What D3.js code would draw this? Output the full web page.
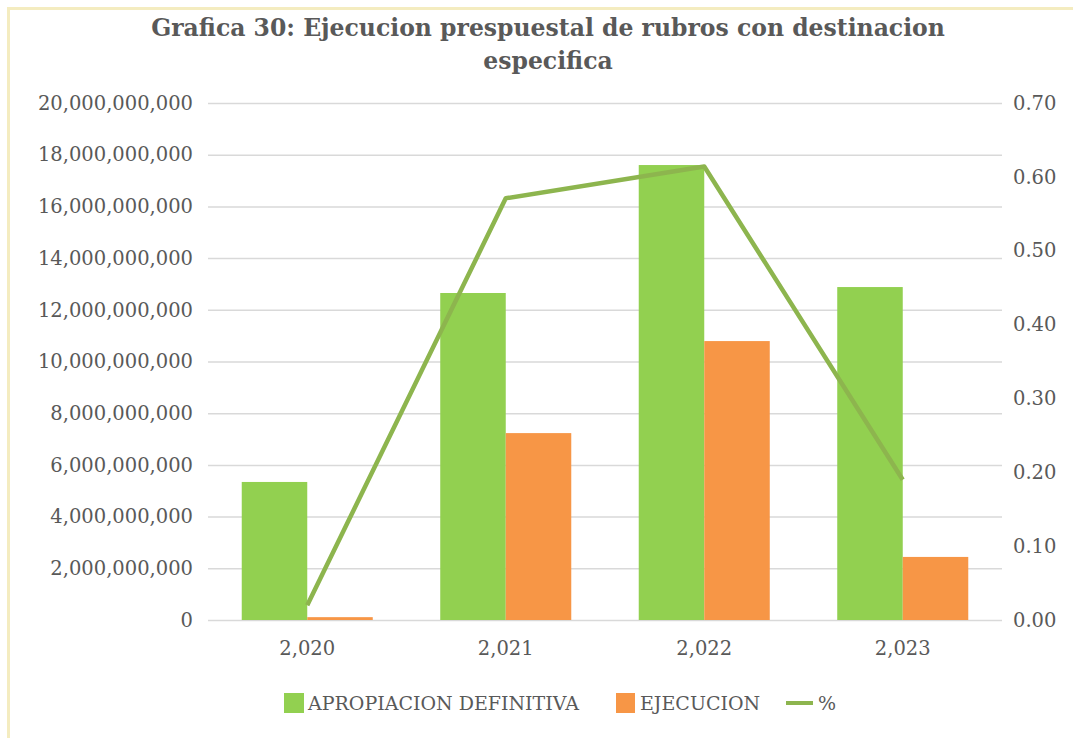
<!DOCTYPE html>
<html>
<head>
<meta charset="utf-8">
<script src="https://cdn.jsdelivr.net/npm/d3@7"></script>
<style>
  body { margin: 0; background: #fff; }
  text { font-family: "DejaVu Serif", serif; fill: #595959; }
</style>
</head>
<body>
<div class="chart"></div>
<script>
// data
const years = ['2,020', '2,021', '2,022', '2,023'];
const apropiacion = [5340000000, 12650000000, 17600000000, 12880000000];
const ejecucion = [110000000, 7230000000, 10790000000, 2440000000];
const porcentaje = [0.02, 0.571, 0.614, 0.19];
const leftTicks = [0, 2e9, 4e9, 6e9, 8e9, 10e9, 12e9, 14e9, 16e9, 18e9, 20e9];
const rightTicks = [0, 0.1, 0.2, 0.3, 0.4, 0.5, 0.6, 0.7];
const seriesNames = ['APROPIACION DEFINITIVA', 'EJECUCION', '%'];
const titleLines = ['Grafica 30: Ejecucion prespuestal de rubros con destinacion', 'especifica'];

const W = 1073, H = 738;
const plotLeft = 208, plotRight = 1002, plotTop = 103, plotBottom = 620;
const green = '#92d050', orange = '#f79646', lineColor = '#8db54e';

const svg = d3.select('.chart')
  .append('svg')
  .attr('width', W)
  .attr('height', H);

// pale yellow frame
svg.append('rect')
  .attr('x', 8.5).attr('y', 8.5)
  .attr('width', W + 10).attr('height', H + 10)
  .style('fill', 'none')
  .style('stroke', '#f4ecc0')
  .style('stroke-width', 3);

// title
svg.selectAll('.title')
  .data(titleLines)
  .enter().append('text')
  .attr('class', 'title')
  .attr('x', 548)
  .attr('y', (d, i) => 36 + i * 33)
  .attr('text-anchor', 'middle')
  .style('font-size', '23.5px')
  .style('font-weight', 'bold')
  .text(d => d);

const x = d3.scaleBand().domain(years).range([plotLeft, plotRight]);
const x1 = d3.scaleBand().domain(['a', 'e']).range([0, x.bandwidth()]).paddingOuter(0.515);
const y = d3.scaleLinear().domain([0, 20e9]).range([plotBottom, plotTop]);
const y2 = d3.scaleLinear().domain([0, 0.7]).range([plotBottom, plotTop]);

// gridlines
svg.append('g')
  .attr('transform', `translate(${plotLeft},0)`)
  .call(d3.axisLeft(y).tickValues(leftTicks).tickSize(-(plotRight - plotLeft)).tickFormat(''))
  .call(g => g.select('.domain').remove())
  .call(g => g.selectAll('line').style('stroke', '#d9d9d9').style('stroke-width', 1.5));

// left axis
svg.append('g')
  .attr('transform', `translate(${plotLeft},0)`)
  .call(d3.axisLeft(y).tickValues(leftTicks).tickSize(0).tickPadding(15).tickFormat(d3.format(',')))
  .call(g => g.select('.domain').remove())
  .call(g => g.selectAll('text').style('font-size', '19.5px').style('font-family', '"DejaVu Serif", serif').style('fill', '#595959'));

// right axis
svg.append('g')
  .attr('transform', `translate(${plotRight},0)`)
  .call(d3.axisRight(y2).tickValues(rightTicks).tickSize(0).tickPadding(11).tickFormat(d3.format('.2f')))
  .call(g => g.select('.domain').remove())
  .call(g => g.selectAll('text').style('font-size', '19.5px').style('font-family', '"DejaVu Serif", serif').style('fill', '#595959'));

// bottom axis
svg.append('g')
  .attr('transform', `translate(0,${plotBottom})`)
  .call(d3.axisBottom(x).tickSize(0).tickPadding(21))
  .call(g => g.select('.domain').remove())
  .call(g => g.selectAll('text').style('font-size', '19.5px').style('font-family', '"DejaVu Serif", serif').style('fill', '#595959'));

// bars
const groups = svg.selectAll('.grp')
  .data(years)
  .enter().append('g')
  .attr('class', 'grp')
  .attr('transform', d => `translate(${x(d)},0)`);

groups.append('rect')
  .attr('x', x1('a'))
  .attr('width', x1.bandwidth())
  .attr('y', (d, i) => y(apropiacion[i]))
  .attr('height', (d, i) => plotBottom - y(apropiacion[i]))
  .style('fill', green);

groups.append('rect')
  .attr('x', x1('e'))
  .attr('width', x1.bandwidth())
  .attr('y', (d, i) => y(ejecucion[i]))
  .attr('height', (d, i) => plotBottom - y(ejecucion[i]))
  .style('fill', orange);

// % line
const line = d3.line()
  .x((d, i) => x(years[i]) + x.bandwidth() / 2)
  .y(d => y2(d));

svg.append('path')
  .datum(porcentaje)
  .attr('d', line)
  .style('fill', 'none')
  .style('stroke', lineColor)
  .style('stroke-width', 4.5)
  .style('stroke-linejoin', 'round');

// legend
const legend = svg.append('g').attr('transform', 'translate(0,703)');

legend.append('rect').attr('x', 284).attr('y', -10).attr('width', 20).attr('height', 20).style('fill', green);
legend.append('text').attr('x', 308).attr('y', 7).style('font-size', '19px').text(seriesNames[0]);

legend.append('rect').attr('x', 616).attr('y', -10).attr('width', 19).attr('height', 20).style('fill', orange);
legend.append('text').attr('x', 640).attr('y', 7).style('font-size', '19px').text(seriesNames[1]);

legend.append('line').attr('x1', 786).attr('x2', 813).attr('y1', 0).attr('y2', 0)
  .style('stroke', lineColor).style('stroke-width', 4);
legend.append('text').attr('x', 818).attr('y', 7).style('font-size', '19px').text(seriesNames[2]);
</script>
</body>
</html>
